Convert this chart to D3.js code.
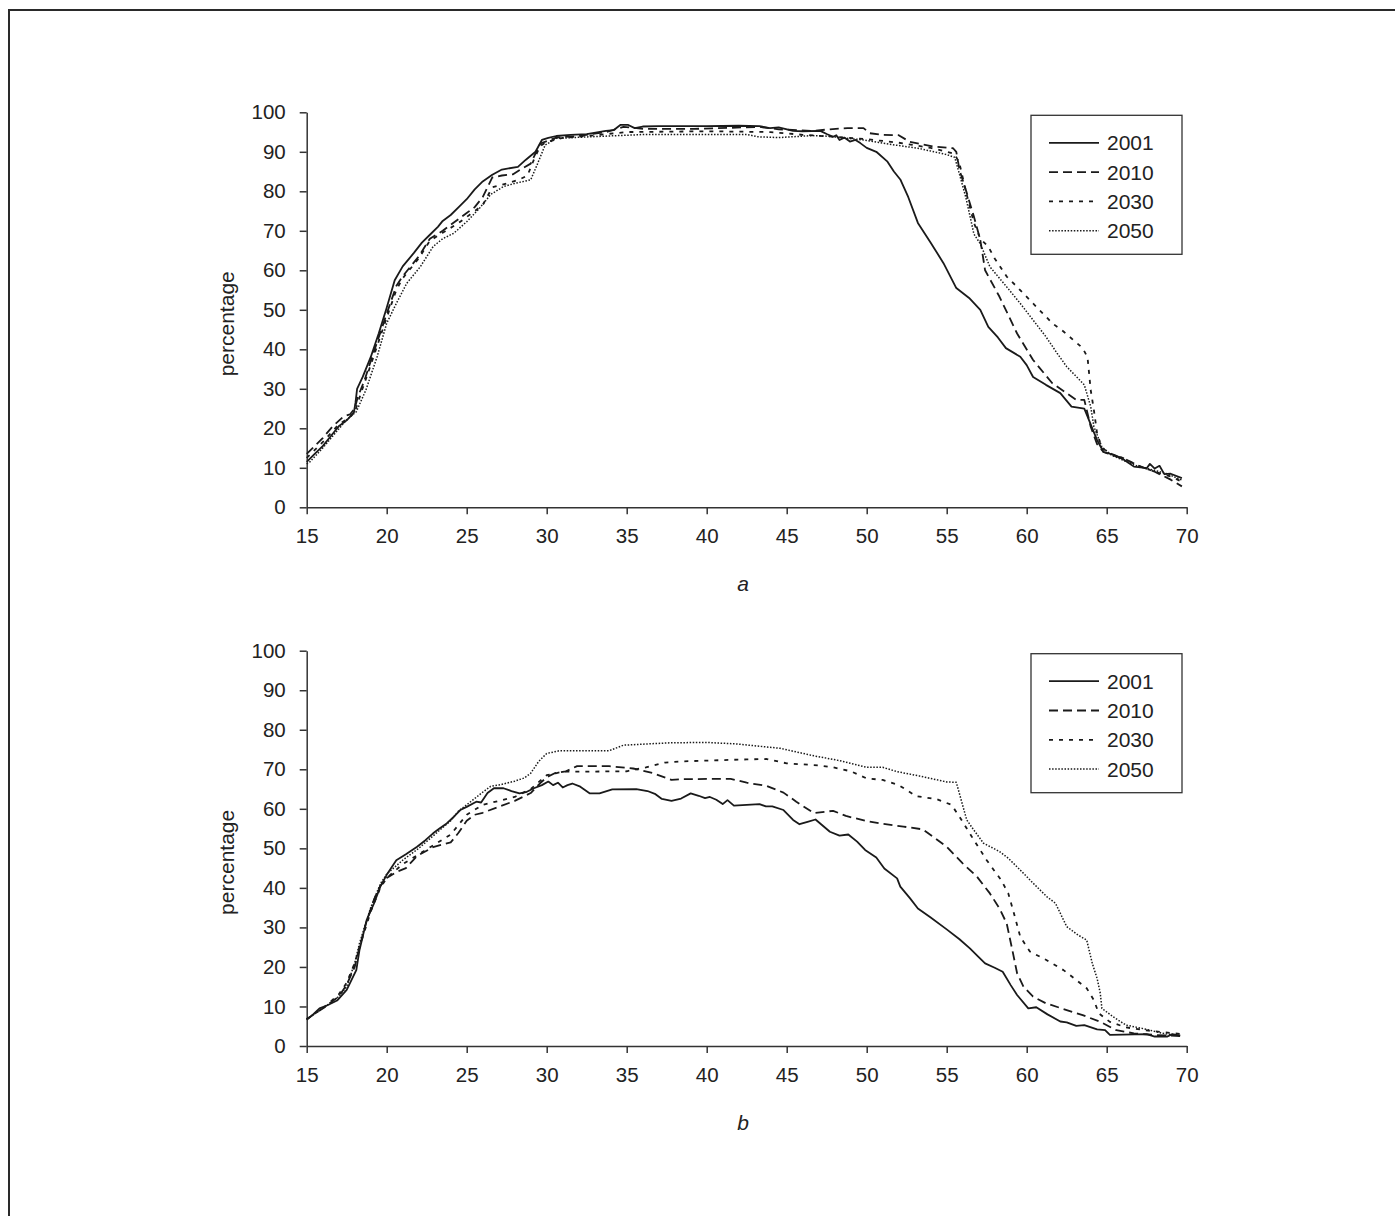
<!DOCTYPE html>
<html>
<head>
<meta charset="utf-8">
<script src="https://cdn.jsdelivr.net/npm/d3@7/dist/d3.min.js"></script>
<style>
  html, body { margin: 0; padding: 0; background: #fff; }
  svg { display: block; font-family: "Liberation Sans", Arial, sans-serif; }
</style>
</head>
<body>
<svg id="chart" width="1395" height="1216"></svg>
<script>
// ---- data: [age, percentage] ----
const years = ["2001", "2010", "2030", "2050"];
const xTicks = [15, 20, 25, 30, 35, 40, 45, 50, 55, 60, 65, 70];
const yTicks = [0, 10, 20, 30, 40, 50, 60, 70, 80, 90, 100];

// panel a
const a2001 = [[15,11.5],[15.5,13.5],[16,15.5],[16.5,18],[17,20.5],[17.5,22],[17.95,24],[18.05,26.5],[18.15,30],[18.5,33],[19,38],[19.5,44],[20,50.5],[20.5,57.5],[21,61],[21.7,64.4],[22.2,67],[22.7,69],[23.2,71],[23.5,72.5],[24,74],[24.5,76],[25,78],[25.5,80.5],[26,82.5],[26.6,84.2],[27.2,85.5],[28.2,86.2],[28.7,88],[29.3,90],[29.7,93],[30.1,93.5],[30.6,94],[31.5,94.3],[32.5,94.5],[33.7,95.3],[34.2,95.5],[34.6,96.8],[35.1,96.8],[35.5,96],[36,96.4],[37,96.5],[40,96.5],[42,96.6],[43.3,96.5],[43.95,96],[44.5,96.2],[45.4,95.3],[46,95.2],[47.1,95.3],[47.5,94.5],[47.9,93.8],[48.1,94.2],[48.3,93],[48.6,93.6],[48.95,92.6],[49.3,93],[49.6,92.2],[50,91],[50.6,90],[51.3,87.5],[51.7,85],[52.1,83],[52.6,78.5],[53.2,72],[54,67],[54.8,61.8],[55.6,55.5],[56.4,53],[57.1,50],[57.6,45.7],[58.2,43],[58.7,40.3],[59.6,38.1],[60,36],[60.4,33],[61.2,31],[62.1,28.9],[62.8,25.5],[63.6,25],[63.8,23],[64.1,20],[64.4,17],[64.8,14],[65.5,13.2],[66.1,12],[66.7,10.3],[67.5,9.9],[67.7,11],[68,9.8],[68.3,10.5],[68.6,8.4],[69,8.5],[69.7,7.4]];
const a2010 = [[15,13.5],[15.5,15.5],[16,17.5],[16.6,20.4],[17.3,23],[17.7,23.5],[18,25],[18.2,28],[18.6,32],[19,37],[19.5,43],[20,49],[20.6,56],[21,58.5],[21.5,61],[22,63.5],[22.7,68],[23.5,70],[24,71.5],[24.5,73],[25,74.5],[25.5,76],[26,78.5],[26.6,83.5],[27.2,84],[27.9,84.3],[28.4,85.6],[29,87],[29.6,92.1],[30.6,93.6],[32,94],[33.7,95],[34.8,96.3],[36.1,95.8],[39.2,95.8],[43.3,96.3],[44.5,95.7],[46.6,95.3],[47.7,95.7],[48.8,96],[49.8,96],[50.2,94.7],[51,94.3],[52,94.2],[52.7,92.5],[54.2,91.3],[55.4,90.9],[55.6,90],[55.8,85.4],[56.2,80.3],[56.7,73.6],[57.1,67.7],[57.4,60],[58.3,53.3],[59.4,44],[60.4,37.3],[61.6,31.4],[62.5,28.9],[63.1,27.2],[63.6,27.2],[64,20.4],[64.4,16],[64.8,14],[65.5,13],[66,12.5],[67,10.5],[68,9],[69,7],[69.7,5.3]];
const a2030 = [[15,12.5],[16,16.5],[17,21],[17.6,22.5],[18,24],[18.4,29],[19,36],[19.5,42],[20,48],[20.6,55],[21,58],[22,63],[22.7,67.5],[23.5,69.5],[24.5,72],[25,73.5],[26,76.5],[26.6,81],[27.5,82],[28.3,83],[28.8,84],[29.2,88],[29.6,91.5],[30,92.5],[31,93.5],[33,94.2],[35,95],[40,95.2],[44,95],[46,94.3],[48,93.8],[50,93.2],[52,92.3],[54,91],[55.5,89.5],[55.8,87],[56.2,80],[56.7,72],[57.1,68],[57.6,66],[58,63],[58.75,58.4],[59.4,55.8],[60.4,51.6],[61,49.1],[61.6,46.6],[62.3,44.5],[62.9,42.4],[63.5,40.3],[63.8,38],[63.9,33.9],[64,29.7],[64.2,24.6],[64.4,18.7],[64.7,15],[65.3,13.5],[66,12.5],[67,10.5],[68,9],[69,7.8],[69.7,6.5]];
const a2050 = [[15,11],[15.2,11.5],[16,15],[16.6,17.9],[17.5,22.2],[18.1,24.2],[18.7,29.7],[19.4,38.1],[20,46.6],[20.6,51.6],[21.25,56.7],[22.1,60.9],[22.9,66],[23.5,68],[24.2,69.4],[25,72.3],[25.8,75.7],[26.5,79.2],[27.3,81.2],[28,82],[29,82.9],[29.4,86.7],[29.9,91.7],[30.6,93.4],[32.7,93.8],[36.2,94.4],[42.5,94.4],[43.2,93.8],[44.5,93.6],[46.6,94.1],[47.4,94],[49.8,93],[51.8,91.7],[53.2,90.9],[55,89.3],[55.5,88.6],[55.8,84.3],[56.2,78.4],[56.7,69.2],[57.1,66.7],[57.7,60.9],[58.75,55.8],[59.6,51.6],[60.4,47.4],[61.2,43.2],[61.9,39],[62.5,35.6],[63.1,33.1],[63.6,31],[64,25.5],[64.2,20.4],[64.7,15.3],[65.3,13.2],[66.7,10.7],[68.7,8.6],[69.7,6.9]];

// panel b
const b2001 = [[15,6.6],[15.4,8],[15.8,9.5],[16.3,10.3],[16.9,11.5],[17.5,14.2],[18.1,19.2],[18.3,24.3],[18.75,31.9],[19.2,36],[19.6,40.3],[20,43.3],[20.6,47],[21.2,48.5],[21.9,50.4],[22.4,52],[22.9,53.8],[23.3,55],[23.75,56.3],[24.2,58],[24.6,59.7],[25,60.5],[25.6,61.8],[25.9,61.6],[26.3,64],[26.7,65.2],[27.3,65.2],[27.8,64.5],[28.3,63.9],[28.7,64.2],[29.2,65.2],[29.7,66],[30.1,66.9],[30.4,66],[30.7,66.6],[31,65.4],[31.3,66],[31.6,66.4],[32.1,65.6],[32.7,63.9],[33.3,63.9],[34.1,64.9],[35.6,65],[36.3,64.5],[36.8,63.7],[37.2,62.5],[37.8,62],[38.4,62.6],[39,63.9],[39.5,63.3],[39.9,62.7],[40.2,63],[40.6,62.3],[41,61.2],[41.3,62.2],[41.7,60.8],[42.5,61],[43.3,61.2],[43.7,60.6],[44.1,60.6],[44.8,59.7],[45.4,57.2],[45.8,56.1],[46.3,56.7],[46.8,57.3],[47.7,54.2],[48.3,53.2],[48.85,53.5],[49.4,51.7],[49.9,49.6],[50.6,47.7],[51.1,44.9],[51.9,42.4],[52.1,40.3],[52.7,37.4],[53.2,34.8],[54,32.5],[55,29.5],[55.8,27],[56.45,24.7],[57,22.5],[57.4,20.9],[58,19.8],[58.5,18.8],[59,15.4],[59.4,12.9],[60.1,9.5],[60.6,9.8],[61.3,8],[62.1,6.2],[62.5,6],[63.1,5.1],[63.6,5.3],[64.4,4.2],[64.9,4],[65.2,2.8],[66,2.9],[67.5,3],[68,2.4],[68.8,2.4],[69.1,3],[69.6,2.6]];
const b2010 = [[15,6.8],[16,9.5],[17,12.5],[17.5,15.5],[18,20],[18.3,25],[18.7,31],[19.2,37],[19.6,40.5],[20,42.5],[20.6,44],[21.2,45],[21.9,48.1],[22.9,50.3],[23.5,51],[24,51.5],[24.5,54],[25,57],[25.5,58.5],[26,59],[27,60.5],[28,62],[29,64],[29.6,66.5],[30,68],[30.5,69],[31.2,69.5],[31.9,70.8],[33.9,70.8],[35.4,70.2],[36.6,69.1],[37.8,67.3],[38.5,67.5],[41.5,67.6],[42.5,66.6],[43.75,65.8],[44.8,64.1],[45.6,61.8],[46.7,58.9],[47.9,59.5],[48.7,58.2],[50,56.9],[51,56.2],[52.3,55.5],[53.5,54.8],[54.3,52.5],[55,50.4],[56,46.2],[56.9,42.8],[57.7,38.6],[58.3,34.8],[58.75,31],[59.1,24.3],[59.4,18.4],[59.8,15],[60.4,12.5],[61.2,10.8],[62.5,9.1],[63.5,7.8],[64.6,6.1],[65.6,4],[66.7,3.2],[68,2.8],[69.7,2.5]];
const b2030 = [[15,6.8],[16,9.5],[17,13],[17.5,16],[18,21],[18.3,25],[19,34],[19.6,40],[20,42.5],[21,46],[22,48.5],[23,51],[24,53.5],[24.5,56],[25,58.5],[26,61],[27,62],[28,63],[29,65],[30,68.5],[31,69.4],[32,69.4],[35,69.5],[36.2,70.5],[37.4,71.7],[38.5,72],[40.8,72.3],[42.5,72.5],[43.75,72.6],[45,71.5],[47,71],[47.9,70.5],[49,69.5],[50,67.7],[51,67.3],[52,66],[53.1,63.2],[54.4,62.4],[55.3,61],[55.8,58],[56.7,52.1],[57.5,47],[58.4,42],[58.85,38.6],[59.2,33.6],[59.6,27.6],[60.2,23.9],[61.2,21.8],[62.3,19.2],[63.1,16.7],[63.75,14.6],[64.2,11.6],[64.5,8.3],[65.2,6.1],[66.2,4.7],[67.6,3.9],[69.7,3]];
const b2050 = [[15,6.8],[16,9.5],[17,12.5],[17.5,15],[18,21],[18.3,26],[19,35],[19.6,41],[20,43.5],[21,47],[22,50],[23,53.5],[24,57],[24.5,59.5],[25,61],[25.9,63.9],[26.5,65.7],[27,66],[28,67],[28.6,67.8],[29,69],[29.5,72],[30,74],[30.8,74.7],[33.9,74.7],[34.8,76.1],[37.7,76.7],[40,76.8],[41.9,76.4],[44.6,75.3],[46.7,73.4],[48.3,72.2],[50,70.5],[51,70.5],[51.9,69.4],[53.3,68.3],[55,66.8],[55.6,66.7],[56.25,57.2],[56.7,54.6],[57.3,51.3],[58.3,49.2],[58.85,47.5],[59.6,44.5],[60.4,41.2],[61.25,37.8],[61.8,36.1],[62.5,30.2],[63.2,28.1],[63.75,26.8],[64.1,20.9],[64.4,17.1],[64.6,13.3],[64.7,9.5],[65.4,7.4],[66.2,5.3],[67.5,4.2],[68.5,3.2],[69.6,2.6]];

// ---- styling ----
const ink = "#1a1a1a";
const axisInk = "#333";
const lineStyles = {
  "2001": { dash: null, width: 1.8 },
  "2010": { dash: "9,5", width: 1.8 },
  "2030": { dash: "4,6", width: 1.8 },
  "2050": { dash: "1.5,1.6", width: 1.5 }
};

const svg = d3.select("#chart");

// page frame
svg.append("rect")
  .attr("x", 9).attr("y", 10)
  .attr("width", 1400).attr("height", 1230)
  .attr("fill", "none").attr("stroke", "#2a2a2a").attr("stroke-width", 2);

const x = d3.scaleLinear().domain([15, 70]).range([306.7, 1186.7]);

function drawPanel(top, bottom, series, caption) {
  const y = d3.scaleLinear().domain([0, 100]).range([bottom, top]);
  const g = svg.append("g");

  // axes
  const yAxis = d3.axisLeft(y).tickValues(yTicks).tickSize(7).tickSizeOuter(0).tickPadding(14);
  const xAxis = d3.axisBottom(x).tickValues(xTicks).tickSize(7).tickSizeOuter(0).tickPadding(14);

  const gy = g.append("g").attr("transform", "translate(306.7,0)").call(yAxis);
  const gx = g.append("g").attr("transform", `translate(0,${bottom})`).call(xAxis);
  [gx, gy].forEach(a => {
    a.select(".domain").attr("stroke", axisInk).attr("stroke-width", 1.5);
    a.selectAll(".tick line").attr("stroke", axisInk).attr("stroke-width", 1.5);
    a.selectAll(".tick text").attr("fill", "#222").style("font-size", "20.5px")
      .style("font-family", "'Liberation Sans', Arial, sans-serif");
  });

  // y title
  g.append("text")
    .attr("transform", `translate(234,${(top + bottom) / 2 + 14}) rotate(-90)`)
    .attr("text-anchor", "middle")
    .attr("fill", "#222")
    .style("font-size", "21px")
    .text("percentage");

  // caption below the axis
  g.append("text")
    .attr("x", 743).attr("y", bottom + 84)
    .attr("text-anchor", "middle")
    .attr("fill", "#222")
    .style("font-size", "21px").style("font-style", "italic")
    .text(caption);

  // series lines
  const line = d3.line().x(d => x(d[0])).y(d => y(d[1]));
  series.forEach((data, i) => {
    const st = lineStyles[years[i]];
    g.append("path")
      .datum(data)
      .attr("d", line)
      .attr("fill", "none")
      .attr("stroke", ink)
      .attr("stroke-width", st.width)
      .attr("stroke-linejoin", "round")
      .attr("stroke-dasharray", st.dash);
  });

  // legend
  const lg = g.append("g").attr("transform", `translate(1031,${top + 3})`);
  lg.append("rect").attr("x", 0).attr("y", 0).attr("width", 151).attr("height", 139)
    .attr("fill", "#fff").attr("stroke", axisInk).attr("stroke-width", 1.3);
  years.forEach((yr, i) => {
    const st = lineStyles[yr];
    const cy = 27.5 + i * 29.3;
    lg.append("line").attr("x1", 18).attr("x2", 68).attr("y1", cy).attr("y2", cy)
      .attr("stroke", ink).attr("stroke-width", st.width)
      .attr("stroke-dasharray", st.dash);
    lg.append("text").attr("x", 76).attr("y", cy).attr("dy", "0.36em")
      .attr("fill", "#222").style("font-size", "21px").text(yr);
  });
}

drawPanel(112.3, 507.3, [a2001, a2010, a2030, a2050], "a");
drawPanel(650.7, 1046, [b2001, b2010, b2030, b2050], "b");
</script>
</body>
</html>
